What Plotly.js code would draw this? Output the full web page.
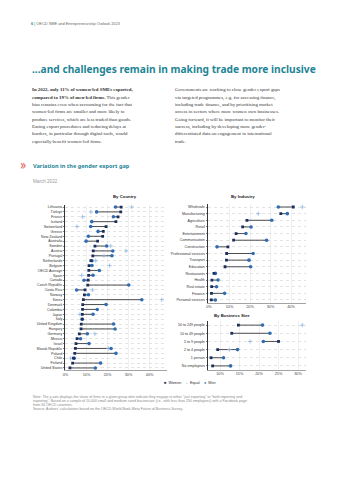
<!DOCTYPE html>
<html><head><meta charset="utf-8">
<script src="https://cdn.plot.ly/plotly-3.0.1.min.js"></script>
<style>
html,body{margin:0;padding:0;background:#fff;width:340px;height:480px;overflow:hidden;}
.a{position:absolute;white-space:nowrap;}
#hdr{left:31px;top:20.5px;font:3.9px "Liberation Sans",Arial,sans-serif;color:#666;}
#hdr b{color:#1e8496;}
#ttl{left:32px;top:63px;font:bold 10.2px/12px "Liberation Sans Narrow","Noto Sans",sans-serif;color:#1e8496;}
.col{top:86.3px;font:4.85px/7.35px "Liberation Serif","DejaVu Serif",serif;color:#333;}
#c1{left:32px;} #c2{left:175px;}
#rq{left:20px;top:157px;font:14px/16px "DejaVu Sans",sans-serif;color:#e04a3f;transform:scaleX(0.75);transform-origin:left center;}
#sec{left:33px;top:162.5px;font:bold 5.6px/7px "Liberation Sans Narrow","Noto Sans",sans-serif;color:#1e8496;}
#mar{left:33px;top:178.5px;font:4.6px/5px "Liberation Sans",sans-serif;color:#9a9a9a;}
#notes{left:33px;top:394.5px;font:3.55px/4px "Liberation Sans",sans-serif;color:#888;}
#chart{position:absolute;left:0;top:190px;width:340px;height:210px;}
</style></head><body>
<div class="a" id="hdr"><b>6</b> | OECD SME and Entrepreneurship Outlook 2023</div>
<div class="a" id="ttl">...and challenges remain in making trade more inclusive</div>
<div class="a col" id="c1"><b>In 2022, only 11% of women-led SMEs exported,</b><br><b>compared to 19% of men-led firms.</b> This gender<br>bias remains even when accounting for the fact that<br>women-led firms are smaller and more likely to<br>produce services, which are less traded than goods.<br>Easing export procedures and reducing delays at<br>borders, in particular through digital tools, would<br>especially benefit women-led firms.</div>
<div class="a col" id="c2">Governments are working to close gender export gaps<br>via targeted programmes, e.g. for accessing finance,<br>including trade finance, and by prioritising market<br>access in sectors where more women own businesses.<br>Going forward, it will be important to monitor their<br>success, including by developing more gender-<br>differentiated data on engagement in international<br>trade.</div>
<div class="a" id="rq">»</div>
<div class="a" id="sec">Variation in the gender export gap</div>
<div class="a" id="mar">March 2022</div>
<div id="chart"></div>
<div class="a" id="notes">Note: The y-axis displays the share of firms in a given group who indicate they engage in either “just exporting” or “both importing and<br>exporting”. Based on a sample of 10,000 small and medium sized businesses (i.e., with less than 250 employees) with a Facebook page<br>from 34 OECD countries.<br>Source: Authors' calculations based on the OECD-World Bank-Meta Future of Business Survey.</div>
<script>
const countries = ["Lithuania","Türkiye","France","Iceland","Switzerland","Greece","New Zealand","Australia","Sweden","Austria","Portugal","Netherlands","Belgium","OECD Average","Spain","Canada","Czech Republic","Costa Rica","Norway","Korea","Denmark","Colombia","Japan","Italy","United Kingdom","Hungary","Germany","Mexico","Israel","Slovak Republic","Poland","Chile","Finland","United States"];
const countryWomen = [26.5,26.3,25.0,24.0,19.3,18.0,17.7,15.3,14.0,13.2,13.0,12.1,11.2,11.1,11.0,10.8,10.6,9.3,9.0,8.5,8.2,8.1,8.0,7.9,7.5,7.4,6.6,5.5,5.0,4.7,4.4,3.8,3.4,2.1];
const countryMen = [23.8,14.8,22.8,12.5,12.0,15.5,10.9,9.8,19.6,22.5,22.1,12.6,12.6,16.1,13.1,8.8,30.1,5.3,10.9,36.3,19.3,15.1,13.1,8.0,22.9,23.6,10.4,7.2,11.2,21.7,24.0,4.2,16.7,14.2];
const countryEqual = [31.5,12.1,8.2,null,5.5,null,null,null,21.5,28.8,18.3,14.4,21.0,null,7.7,null,null,12.9,null,45.8,null,null,6.9,null,null,null,14.0,null,null,20.4,null,2.5,null,null];

const industries = ["Wholesale","Manufacturing","Agriculture","Retail","Entertainment","Communication","Construction","Professional services","Transport","Education","Restaurants","Health","Real estate","Finance","Personal services"];
const industryWomen = [41.1,35.0,18.5,16.4,13.2,12.0,9.2,8.6,8.5,7.8,2.4,1.4,1.3,1.2,1.1];
const industryMen = [33.8,38.2,30.6,20.5,18.0,28.1,3.9,21.5,19.5,20.3,3.1,4.4,3.7,7.6,3.1];
const industryEqual = [45.5,24.0,null,null,null,null,null,null,null,null,null,null,null,null,null];

const sizes = ["50 to 249 people","10 to 49 people","5 to 9 people","2 to 4 people","1 person","No employees"];
const sizeWomen = [14.7,13.0,25.0,9.4,7.7,8.1];
const sizeMen = [20.9,22.8,21.1,14.5,10.9,12.7];
const sizeEqual = [31.1,null,17.7,12.4,null,null];

const xTicks = [0,10,20,30,40];
const sizeTicks = [10,15,20,25,30];

const C_W = '#1b2d5b', C_M = '#2f6cb3', C_E = '#8fb5e0', C_L = '#4d4d4d';
const FONT = '"Liberation Sans", Arial, sans-serif';

function panel(cats, w, m, e, xa, ya) {
  const lx = [], ly = [];
  cats.forEach((c,i)=>{ lx.push(w[i], m[i], null); ly.push(c, c, null); });
  return [
    {type:'scatter', mode:'lines', x:lx, y:ly, xaxis:xa, yaxis:ya, line:{color:C_L, width:1}, hoverinfo:'skip', showlegend:false},
    {type:'scatter', mode:'markers', x:e, y:cats, xaxis:xa, yaxis:ya, marker:{symbol:'cross-thin', size:3, line:{color:C_E, width:0.8}}, showlegend:false, name:'Equal'},
    {type:'scatter', mode:'markers', x:m, y:cats, xaxis:xa, yaxis:ya, marker:{symbol:'circle', size:3.6, color:C_M}, showlegend:false, name:'Men'},
    {type:'scatter', mode:'markers', x:w, y:cats, xaxis:xa, yaxis:ya, marker:{symbol:'square', size:2.8, color:C_W}, showlegend:false, name:'Women'}
  ];
}

const data = [].concat(
  panel(countries, countryWomen, countryMen, countryEqual, 'x', 'y'),
  panel(industries, industryWomen, industryMen, industryEqual, 'x2', 'y2'),
  panel(sizes, sizeWomen, sizeMen, sizeEqual, 'x3', 'y3')
);

function xax(domain, range, ticks, anchor) {
  return {domain, range, tickvals:ticks, ticktext:ticks.map(t=>t+'%'), anchor,
    showgrid:true, gridcolor:'#e6e6e6', gridwidth:0.6, zeroline:false,
    showline:true, linecolor:'#666', linewidth:0.6, ticks:'',
    tickfont:{size:3.8, color:'#444', family:FONT}, fixedrange:true};
}
function yax(domain, cats, anchor) {
  return {domain, type:'category', categoryorder:'array', categoryarray:cats,
    range:[cats.length-0.5, -0.5], anchor,
    showgrid:true, gridcolor:'#c8c8c8', gridwidth:0.5, griddash:'dot',
    showline:true, linecolor:'#333', linewidth:1, ticks:'outside', ticklen:1.5, tickcolor:'#333', tickwidth:0.6,
    tickfont:{size:3.6, color:'#333', family:FONT}, fixedrange:true};
}

const layout = {
  width:340, height:210, margin:{l:0,r:0,t:0,b:0},
  paper_bgcolor:'rgba(0,0,0,0)', plot_bgcolor:'rgba(0,0,0,0)',
  showlegend:false, font:{family:FONT},
  xaxis: xax([0.1926,0.4912],[0,48.3],xTicks,'y'),
  yaxis: yax([0.141,0.9305],countries,'x'),
  xaxis2: xax([0.6118,0.9],[-0.49,47.3],xTicks,'y2'),
  yaxis2: yax([0.4605,0.9348],industries,'x2'),
  xaxis3: xax([0.6118,0.9],[6.92,32.05],sizeTicks,'y3'),
  yaxis3: yax([0.1429,0.376],sizes,'x3'),
  annotations:[
    {text:'<b>By Country</b>', x:0.3265, y:0.947, xref:'paper', yref:'paper', yanchor:'bottom', showarrow:false, font:{size:4.3,color:'#222',family:FONT}},
    {text:'<b>By Industry</b>', x:0.756, y:0.949, xref:'paper', yref:'paper', yanchor:'bottom', showarrow:false, font:{size:4.3,color:'#222',family:FONT}},
    {text:'<b>By Business Size</b>', x:0.741, y:0.38, xref:'paper', yref:'paper', yanchor:'bottom', showarrow:false, font:{size:4.3,color:'#222',family:FONT}},
    {text:'<span style="color:'+C_W+'">■</span>\u00a0\u00a0Women\u00a0\u00a0\u00a0\u00a0<span style="color:'+C_E+'">+</span>\u00a0\u00a0Equal\u00a0\u00a0\u00a0\u00a0<span style="color:'+C_M+'">●</span>\u00a0\u00a0Men',
     x:0.559, y:0.062, xref:'paper', yref:'paper', showarrow:false, font:{size:3.8,color:'#333',family:FONT}}
  ]
};

Plotly.newPlot('chart', data, layout, {staticPlot:true, displayModeBar:false});
</script>
</body></html>
